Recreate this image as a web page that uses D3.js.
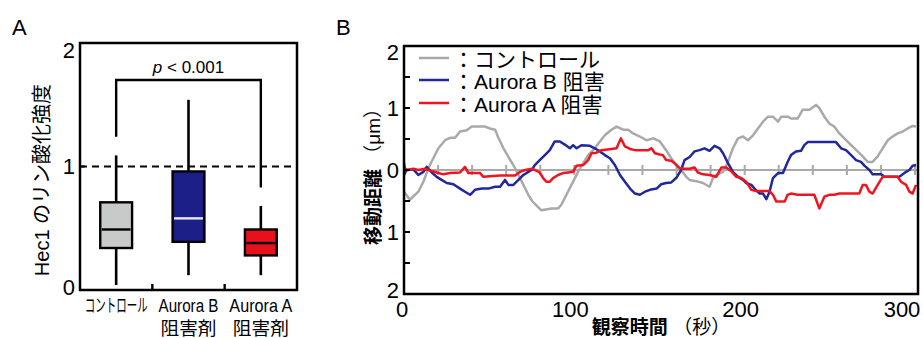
<!DOCTYPE html>
<html>
<head>
<meta charset="utf-8">
<script src="https://cdn.jsdelivr.net/npm/d3@7"></script>
<style>
  body { margin: 0; background: #fff; }
  svg { display: block; }
  text { font-family: "Liberation Sans", "Noto Sans CJK JP", sans-serif; fill: #000; }
</style>
</head>
<body>
<svg width="923" height="338"></svg>
<script>
// ---- panel A data ----
const categories = ['コントロール', 'Aurora B', 'Aurora A'];
const categories2 = ['', '阻害剤', '阻害剤'];
const boxFill = ['#c8cac9', '#1d1f88', '#e8101a'];
const medianColor = ['#000', '#e6e6ff', '#000'];
const whiskerLow = [0.04, 0.12, 0.12];
const q1 = [0.34, 0.39, 0.28];
const median = [0.49, 0.58, 0.38];
const q3 = [0.71, 0.96, 0.49];
const whiskerHigh = [1.09, 1.54, 0.68];
const bracket = [1.24, 1.70, 0.83]; // left leg, top, right leg
const yTicksA = [0, 1, 2];

// ---- panel B data ----
const ctrlT = [0, 3.5, 8.4, 11.4, 14.3, 17.2, 20.2, 24.1, 27, 30, 32.9, 36.8, 39.8, 47.6, 50.5, 53.5, 55.4, 58.4, 61.3, 64.2, 67.2, 70.1, 73, 75.2, 78, 80.7, 86.6, 90.5, 92.4, 95.4, 98.3, 102.2, 105.2, 108.1, 112, 115, 117.9, 121.8, 124.8, 128.7, 131.6, 134.5, 138.5, 142.4, 146.3, 150.2, 153.9, 156.9, 159.8, 162.7, 165.7, 167.7, 171.6, 175.5, 179.4, 181.4, 183.3, 187.3, 190.2, 193.1, 196.1, 199, 201.9, 204.9, 207.8, 210.8, 213.7, 216.6, 219.6, 221.5, 225.4, 227.2, 231.1, 234, 238, 241.9, 243.8, 246.8, 249.7, 252.6, 255.6, 258.5, 262.5, 266.3, 269.3, 272.2, 275.1, 278.1, 281, 284, 286.9, 289.8, 292.8, 295.7, 298.6, 300.6];
const ctrlV = [-0.35, -0.48, -0.35, -0.19, 0.03, 0.19, 0.35, 0.48, 0.52, 0.52, 0.62, 0.64, 0.70, 0.70, 0.67, 0.65, 0.52, 0.35, 0.21, 0.08, -0.08, -0.24, -0.40, -0.50, -0.58, -0.65, -0.62, -0.62, -0.56, -0.40, -0.24, -0.03, 0.11, 0.24, 0.35, 0.46, 0.56, 0.65, 0.70, 0.65, 0.65, 0.59, 0.54, 0.48, 0.51, 0.46, 0.32, 0.19, 0.08, 0, -0.11, -0.16, -0.18, -0.21, -0.27, -0.13, -0.08, -0.03, 0.13, 0.35, 0.51, 0.54, 0.48, 0.56, 0.67, 0.78, 0.86, 0.86, 0.78, 0.86, 0.86, 0.83, 0.83, 0.97, 0.97, 1.05, 1.0, 0.86, 0.75, 0.70, 0.59, 0.51, 0.40, 0.30, 0.22, 0.13, 0.13, 0.22, 0.35, 0.48, 0.54, 0.59, 0.62, 0.67, 0.71, 0.70];

const auroraBT = [0, 1.6, 5.5, 8.4, 11.4, 13.3, 16.3, 19.2, 22.1, 25.1, 29, 32.9, 35.8, 38.8, 41.7, 45.7, 49.5, 53.5, 56.4, 59.3, 61.3, 64.2, 67.2, 70.1, 73, 75.2, 76.8, 79.7, 82.7, 85.6, 88.5, 91.5, 94.4, 97.4, 99.3, 101.3, 104.2, 109.1, 112, 115, 117.9, 120.9, 123.8, 126.8, 129.7, 132.7, 135.6, 138.5, 141.5, 144.4, 148.3, 151, 153.9, 156.9, 159.8, 162.7, 164.7, 167.7, 170.6, 173.5, 176.4, 179.4, 182.3, 185.3, 187.3, 190.2, 193.1, 196.1, 199, 200.9, 203.9, 205.8, 208.8, 210.8, 212.7, 214.6, 216.6, 219.6, 222.5, 225.2, 227.2, 230.1, 233.1, 235, 237, 253.6, 256.6, 259.5, 262.5, 265.4, 268.3, 270.3, 273.2, 275.1, 280.1, 282, 290.8, 292.8, 294.8, 296.7, 298.6, 300.6];
const auroraBV = [-0.08, 0, 0.01, -0.08, -0.03, 0.05, -0.04, -0.11, -0.16, -0.21, -0.23, -0.30, -0.35, -0.40, -0.32, -0.30, -0.30, -0.27, -0.27, -0.16, -0.24, -0.24, -0.16, -0.08, -0.03, 0.01, 0.08, 0.16, 0.24, 0.32, 0.46, 0.46, 0.41, 0.35, 0.40, 0.35, 0.40, 0.39, 0.35, 0.30, 0.24, 0.19, 0.08, -0.08, -0.19, -0.30, -0.38, -0.40, -0.35, -0.32, -0.30, -0.23, -0.21, -0.20, -0.13, 0, 0.16, 0.21, 0.30, 0.32, 0.35, 0.31, 0.39, 0.35, 0.27, 0.11, -0.03, -0.11, -0.16, -0.21, -0.24, -0.30, -0.38, -0.38, -0.47, -0.35, -0.13, -0.05, -0.05, 0.13, 0.24, 0.30, 0.31, 0.40, 0.45, 0.45, 0.35, 0.32, 0.24, 0.16, 0.13, 0.07, 0, -0.07, -0.07, -0.11, -0.11, -0.07, -0.03, 0, 0.07, 0.08];

const auroraAT = [0, 0.6, 2, 5.5, 8.4, 12.3, 14.3, 19.2, 23.1, 27, 32.9, 35.8, 37.8, 44.7, 46.6, 56.4, 65.2, 68.2, 71.1, 75.2, 76.8, 79.7, 81.7, 83.6, 85.6, 87.5, 90.5, 93.4, 96.4, 99.3, 101.3, 105.2, 108.1, 110.1, 113, 115.9, 121.8, 124.8, 127.3, 129.7, 132.7, 135.6, 143.4, 145.3, 147.3, 150.2, 152, 153.9, 156.9, 158.8, 161.8, 164.7, 167.7, 170.6, 172.5, 175.5, 179.4, 183.3, 186.3, 189.2, 192.1, 195.1, 198, 200.9, 203.9, 206.8, 214.6, 216.6, 218.6, 223.5, 225.2, 227.2, 231.1, 240.9, 243.8, 246.8, 249.7, 252.6, 255.6, 261.5, 267.3, 269.3, 271.2, 273.2, 275.1, 278.1, 281, 289.8, 291.8, 294.8, 296.7, 298.6, 300.6];
const auroraAV = [0.11, 0.03, 0, 0.02, 0, 0.02, 0, -0.04, -0.07, -0.05, -0.04, 0.05, -0.05, -0.05, -0.11, -0.09, -0.09, -0.03, 0, 0.02, 0, -0.04, -0.13, -0.19, -0.19, -0.13, -0.08, -0.05, -0.04, -0.03, 0.07, 0.08, 0.16, 0.27, 0.28, 0.32, 0.34, 0.35, 0.51, 0.38, 0.34, 0.32, 0.32, 0.35, 0.27, 0.25, 0.24, 0.16, 0.15, 0.11, 0.03, 0.02, 0.02, 0.04, -0.04, -0.07, -0.08, -0.11, 0.04, 0.04, -0.02, -0.11, -0.13, -0.19, -0.32, -0.34, -0.34, -0.40, -0.51, -0.51, -0.40, -0.38, -0.40, -0.40, -0.62, -0.43, -0.40, -0.40, -0.38, -0.38, -0.38, -0.24, -0.24, -0.35, -0.38, -0.24, -0.11, -0.11, -0.19, -0.24, -0.35, -0.38, -0.24];

const seriesNames = ['：コントロール', '：Aurora B 阻害', '：Aurora A 阻害'];
const seriesColors = ['#a9a9a9', '#22279a', '#f0141e'];
const xTicksB = [0, 100, 200, 300];
const yTicksB = [2, 1, 0, -1, -2];

const svg = d3.select('svg');

// ================= Panel A =================
const yA = d3.scaleLinear().domain([0, 2]).range([290, 43]);
const xA = d3.scaleBand().domain(categories).range([80, 297]);
const bw = xA.bandwidth();
const boxW = bw * 0.44;
const cx = (i) => xA(categories[i]) + bw / 2;

svg.append('text').attr('x', 12).attr('y', 35)
    .style('font-size', '22px').text('A');

// dashed reference
svg.append('line')
    .attr('x1', xA.range()[0]).attr('x2', xA.range()[1])
    .attr('y1', yA(1)).attr('y2', yA(1))
    .attr('stroke', '#000').attr('stroke-width', 2.2)
    .attr('stroke-dasharray', '7,5');

// whiskers, boxes, medians
const g = svg.append('g');
categories.forEach((c, i) => {
    g.append('line')
        .attr('x1', cx(i)).attr('x2', cx(i))
        .attr('y1', yA(whiskerLow[i])).attr('y2', yA(whiskerHigh[i]))
        .attr('stroke', '#000').attr('stroke-width', 2.6);
    g.append('rect')
        .attr('x', cx(i) - boxW / 2).attr('width', boxW)
        .attr('y', yA(q3[i])).attr('height', yA(q1[i]) - yA(q3[i]))
        .attr('fill', boxFill[i]).attr('stroke', '#000').attr('stroke-width', 2.4);
    g.append('line')
        .attr('x1', cx(i) - boxW / 2 + 1.5).attr('x2', cx(i) + boxW / 2 - 1.5)
        .attr('y1', yA(median[i])).attr('y2', yA(median[i]))
        .attr('stroke', medianColor[i]).attr('stroke-width', 2.4);
});

// significance bracket
svg.append('path')
    .attr('d', 'M' + cx(0) + ',' + yA(bracket[0]) + 'V' + yA(bracket[1]) +
        'H' + cx(2) + 'V' + yA(bracket[2]))
    .attr('fill', 'none').attr('stroke', '#000').attr('stroke-width', 2.4);

const pt = svg.append('text')
    .attr('x', (cx(0) + cx(2)) / 2).attr('y', yA(bracket[1]) - 7)
    .attr('text-anchor', 'middle').style('font-size', '17px');
pt.append('tspan').style('font-style', 'italic').text('p');
pt.append('tspan').text(' < 0.001');

// frame
svg.append('rect')
    .attr('x', xA.range()[0]).attr('y', yA(2))
    .attr('width', xA.range()[1] - xA.range()[0]).attr('height', yA(0) - yA(2))
    .attr('fill', 'none').attr('stroke', '#000').attr('stroke-width', 2.5);

// inner ticks
svg.append('line')
    .attr('x1', xA.range()[0]).attr('x2', xA.range()[0] + 5)
    .attr('y1', yA(1)).attr('y2', yA(1))
    .attr('stroke', '#000').attr('stroke-width', 2);
[1, 2].forEach((i) => {
    svg.append('line')
        .attr('x1', xA(categories[i])).attr('x2', xA(categories[i]))
        .attr('y1', yA(0)).attr('y2', yA(0) - 6)
        .attr('stroke', '#000').attr('stroke-width', 2.4);
});

// y tick labels
svg.selectAll('text.ya').data(yTicksA).enter().append('text')
    .attr('class', 'ya')
    .attr('x', xA.range()[0] - 5)
    .attr('y', (d) => yA(d) + (d === 2 ? 7 : d === 0 ? -3 : 0))
    .attr('dy', '0.36em').attr('text-anchor', 'end')
    .style('font-size', '22px').text((d) => d);

// y title
svg.append('text')
    .attr('transform', 'translate(49,180) rotate(-90)')
    .attr('text-anchor', 'middle').style('font-size', '20px')
    .text('Hec1 のリン酸化強度');

// category labels, squeezed horizontally like the original
const labW1 = [63, 60, 63];
const labW2 = [0, 56, 56];
function narrowText(str, x, y, w) {
    const t = svg.append('text')
        .attr('text-anchor', 'middle')
        .style('font-size', '18px').text(str);
    const natural = t.node().getComputedTextLength();
    t.attr('transform', 'translate(' + x + ',' + y + ') scale(' + (w / natural) + ',1)');
}
categories.forEach((c, i) => {
    narrowText(c, cx(i), 312, labW1[i]);
    if (categories2[i]) narrowText(categories2[i], cx(i), 335, labW2[i]);
});

// ================= Panel B =================
const xB = d3.scaleLinear().domain([0, 300]).range([404, 915]);
const yB = d3.scaleLinear().domain([-2, 2]).range([294, 46]);
const frameR = 918;

svg.append('text').attr('x', 336).attr('y', 35)
    .style('font-size', '22px').text('B');

// zero line with small ticks
svg.append('line')
    .attr('x1', xB(0)).attr('x2', frameR)
    .attr('y1', yB(0)).attr('y2', yB(0))
    .attr('stroke', '#a9a9a9').attr('stroke-width', 2.2);
svg.selectAll('line.zt').data(d3.range(20, 301, 20)).enter().append('line')
    .attr('class', 'zt')
    .attr('x1', (d) => xB(d)).attr('x2', (d) => xB(d))
    .attr('y1', yB(0) - 5).attr('y2', yB(0) + 5)
    .attr('stroke', '#a9a9a9').attr('stroke-width', 2);

const line = d3.line().x((d) => xB(d[0])).y((d) => yB(d[1]));
const series = [
    d3.zip(ctrlT, ctrlV),
    d3.zip(auroraBT, auroraBV),
    d3.zip(auroraAT, auroraAV)
];
series.forEach((s, i) => {
    svg.append('path').datum(s)
        .attr('d', line)
        .attr('fill', 'none')
        .attr('stroke', seriesColors[i])
        .attr('stroke-width', 2.5)
        .attr('stroke-linejoin', 'round');
});

// frame
svg.append('rect')
    .attr('x', xB(0)).attr('y', yB(2))
    .attr('width', frameR - xB(0)).attr('height', yB(-2) - yB(2))
    .attr('fill', 'none').attr('stroke', '#000').attr('stroke-width', 2.5);

// left inner ticks
svg.selectAll('line.yb').data(d3.range(-1.5, 2, 0.5)).enter().append('line')
    .attr('class', 'yb')
    .attr('x1', xB(0)).attr('x2', xB(0) + 6)
    .attr('y1', (d) => yB(d)).attr('y2', (d) => yB(d))
    .attr('stroke', '#000').attr('stroke-width', 2);

svg.selectAll('text.ybl').data(yTicksB).enter().append('text')
    .attr('class', 'ybl')
    .attr('x', xB(0) - 5)
    .attr('y', (d) => yB(d) + (d === 2 ? 6 : d === -2 ? -4 : 0))
    .attr('dy', '0.36em').attr('text-anchor', 'end')
    .style('font-size', '22px').text((d) => Math.abs(d));

svg.selectAll('text.xbl').data(xTicksB).enter().append('text')
    .attr('class', 'xbl')
    .attr('x', (d) => Math.min(xB(d) - (d === 0 ? 2 : 4), frameR - 16))
    .attr('y', 317)
    .attr('text-anchor', 'middle')
    .style('font-size', '22px').text((d) => d);

// axis titles
const ty = svg.append('text')
    .attr('transform', 'translate(380,172) rotate(-90)')
    .attr('text-anchor', 'middle').style('font-size', '19px');
ty.append('tspan').style('font-weight', 'bold').text('移動距離');
ty.append('tspan').text(' （μm）');

const tx = svg.append('text')
    .attr('x', 661).attr('y', 334)
    .attr('text-anchor', 'middle').style('font-size', '19px');
tx.append('tspan').style('font-weight', 'bold').text('観察時間');
tx.append('tspan').text(' （秒）');

// legend
const legY = [58, 80, 103];
seriesNames.forEach((n, i) => {
    svg.append('line')
        .attr('x1', 419).attr('x2', 449)
        .attr('y1', legY[i]).attr('y2', legY[i])
        .attr('stroke', seriesColors[i]).attr('stroke-width', 2.5);
    svg.append('text')
        .attr('x', 453).attr('y', legY[i] + 1)
        .attr('dy', '0.36em')
        .style('font-size', '21px').text(n);
});
</script>
</body>
</html>
